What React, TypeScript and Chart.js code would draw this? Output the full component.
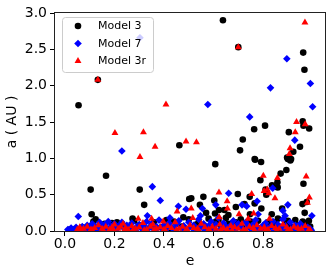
import React, { useEffect, useRef } from 'react';
import { Chart, registerables } from 'chart.js';

Chart.register(...registerables);

// ---- data: [e, a (AU)] ----
const model3Points: number[][] = [
  [0.638, 2.9], [0.7, 2.53], [0.962, 2.455], [0.967, 2.22], [0.133, 2.08], [0.055, 1.73],
  [0.462, 1.18], [0.808, 1.45], [0.764, 1.4], [0.718, 1.26], [0.707, 1.11], [0.96, 1.51],
  [0.963, 1.45], [0.986, 1.41], [0.904, 1.36], [0.949, 1.16], [0.922, 1.09], [0.766, 0.99],
  [0.897, 1.01], [0.913, 0.99], [0.166, 0.76], [0.104, 0.57], [0.302, 0.57], [0.32, 0.36],
  [0.502, 0.44], [0.108, 0.23], [0.124, 0.16], [0.273, 0.17], [0.478, 0.19], [0.607, 0.92],
  [0.768, 0.98], [0.792, 0.95], [0.9, 0.99], [0.91, 0.97], [0.894, 0.84], [0.871, 0.79],
  [0.789, 0.7], [0.858, 0.67], [0.963, 0.65], [0.836, 0.63], [0.859, 0.6], [0.813, 0.5],
  [0.81, 0.57], [0.976, 0.4], [0.698, 0.51], [0.746, 0.47], [0.559, 0.47], [0.51, 0.45],
  [0.603, 0.42], [0.725, 0.37], [0.793, 0.31], [0.877, 0.31], [0.959, 0.37], [0.622, 0.29],
  [0.644, 0.29], [0.606, 0.24], [0.968, 0.25], [0.835, 0.23], [0.747, 0.23], [0.66, 0.22],
  [0.766, 0.38], [0.69, 0.33], [0.545, 0.36], [0.57, 0.25],
];
const model3LowPoints: number[][] = [
  [0.02, 0.02], [0.045, 0.03], [0.07, 0.05], [0.09, 0.02], [0.115, 0.13], [0.14, 0.04],
  [0.16, 0.1], [0.185, 0.02], [0.21, 0.12], [0.24, 0.06], [0.26, 0.03], [0.28, 0.14],
  [0.3, 0.08], [0.33, 0.03], [0.36, 0.12], [0.39, 0.05], [0.41, 0.15], [0.43, 0.02],
  [0.45, 0.1], [0.47, 0.06], [0.5, 0.16], [0.52, 0.04], [0.54, 0.12], [0.56, 0.07],
  [0.58, 0.17], [0.6, 0.03], [0.61, 0.13], [0.63, 0.08], [0.65, 0.18], [0.67, 0.05],
  [0.69, 0.12], [0.71, 0.16], [0.72, 0.04], [0.74, 0.1], [0.76, 0.06], [0.78, 0.14],
  [0.8, 0.03], [0.82, 0.12], [0.84, 0.07], [0.86, 0.17], [0.87, 0.04], [0.89, 0.1],
  [0.91, 0.06], [0.93, 0.15], [0.95, 0.03], [0.97, 0.11], [0.99, 0.06], [0.985, 0.14],
  [0.19, 0.11], [0.23, 0.09], [0.35, 0.07], [0.44, 0.13], [0.53, 0.09], [0.62, 0.15],
  [0.66, 0.1], [0.7, 0.07], [0.75, 0.13], [0.81, 0.09], [0.85, 0.12], [0.9, 0.14],
  [0.94, 0.08], [0.96, 0.13],
];

const model7Points: number[][] = [
  [0.303, 2.66], [0.896, 2.37], [0.991, 2.03], [0.83, 1.97], [0.577, 1.74], [1.0, 1.71],
  [0.746, 1.57], [0.928, 1.25], [0.23, 1.1], [0.353, 0.61], [0.385, 0.42], [0.054, 0.2],
  [0.458, 0.34], [0.489, 0.3], [0.424, 0.18], [0.333, 0.21], [0.839, 0.59], [0.661, 0.52],
  [0.776, 0.41], [0.609, 0.36], [0.715, 0.36], [0.734, 0.34], [0.9, 0.36], [0.555, 0.31],
  [0.997, 0.21], [0.88, 0.28], [0.889, 0.21], [0.547, 0.21], [0.78, 0.23],
];
const model7LowPoints: number[][] = [
  [0.012, 0.02], [0.025, 0.04], [0.035, 0.02], [0.045, 0.05], [0.06, 0.03], [0.07, 0.06],
  [0.08, 0.02], [0.09, 0.08], [0.1, 0.04], [0.11, 0.1], [0.115, 0.03], [0.125, 0.06],
  [0.135, 0.02], [0.14, 0.12], [0.15, 0.05], [0.16, 0.09], [0.17, 0.03], [0.175, 0.13],
  [0.185, 0.06], [0.195, 0.02], [0.2, 0.1], [0.21, 0.04], [0.22, 0.07], [0.23, 0.12],
  [0.24, 0.03], [0.25, 0.08], [0.26, 0.05], [0.27, 0.11], [0.28, 0.02], [0.29, 0.06],
  [0.3, 0.09], [0.31, 0.03], [0.32, 0.07], [0.33, 0.13], [0.34, 0.04], [0.35, 0.1],
  [0.36, 0.02], [0.37, 0.06], [0.38, 0.15], [0.39, 0.04], [0.4, 0.08], [0.41, 0.03],
  [0.42, 0.11], [0.43, 0.05], [0.44, 0.02], [0.45, 0.09], [0.46, 0.14], [0.47, 0.04],
  [0.48, 0.07], [0.49, 0.02], [0.5, 0.12], [0.51, 0.05], [0.52, 0.08], [0.53, 0.03],
  [0.54, 0.16], [0.55, 0.06], [0.56, 0.1], [0.57, 0.02], [0.58, 0.07], [0.59, 0.13],
  [0.6, 0.04], [0.61, 0.09], [0.62, 0.18], [0.63, 0.03], [0.64, 0.11], [0.65, 0.06],
  [0.66, 0.02], [0.67, 0.08], [0.68, 0.14], [0.69, 0.04], [0.7, 0.1], [0.71, 0.05],
  [0.72, 0.02], [0.73, 0.12], [0.74, 0.07], [0.75, 0.03], [0.76, 0.09], [0.77, 0.15],
  [0.78, 0.05], [0.79, 0.02], [0.8, 0.08], [0.81, 0.11], [0.82, 0.04], [0.83, 0.06],
  [0.84, 0.13], [0.85, 0.03], [0.86, 0.09], [0.87, 0.05], [0.88, 0.16], [0.89, 0.07],
  [0.9, 0.02], [0.91, 0.12], [0.92, 0.04], [0.93, 0.08], [0.94, 0.03], [0.95, 0.1],
  [0.96, 0.06], [0.97, 0.02], [0.98, 0.05], [0.99, 0.03],
  [0.018, 0.01], [0.055, 0.01], [0.085, 0.005], [0.13, 0.01], [0.165, 0.005], [0.205, 0.01],
  [0.245, 0.005], [0.285, 0.01], [0.325, 0.005], [0.365, 0.01], [0.405, 0.005], [0.445, 0.01],
  [0.485, 0.005], [0.525, 0.01], [0.565, 0.005], [0.605, 0.01], [0.645, 0.005], [0.685, 0.01],
  [0.725, 0.005], [0.765, 0.01], [0.805, 0.005], [0.845, 0.01], [0.885, 0.005], [0.925, 0.01],
  [0.965, 0.005], [0.995, 0.01],
];

const model3rPoints: number[][] = [
  [0.969, 2.87], [0.7, 2.53], [0.133, 2.08], [0.408, 1.74], [0.202, 1.35], [0.317, 1.36],
  [0.364, 1.16], [0.489, 1.23], [0.303, 1.02], [0.531, 1.22], [0.935, 1.5], [0.97, 1.47],
  [0.93, 1.36], [0.909, 1.14], [0.906, 1.06], [0.801, 0.76], [0.858, 0.73], [0.974, 0.75],
  [0.817, 0.57], [0.804, 0.55], [0.823, 0.52], [0.848, 0.45], [0.987, 0.46], [0.979, 0.39],
  [0.622, 0.53], [0.754, 0.51], [0.655, 0.41], [0.656, 0.31], [0.51, 0.31], [0.516, 0.18],
  [0.703, 0.23], [0.623, 0.19], [0.826, 0.17], [0.453, 0.27], [0.762, 0.24], [0.74, 0.17],
  [0.296, 0.17], [0.35, 0.17], [0.397, 0.13],
];
const model3rLowPoints: number[][] = [
  [0.05, 0.02], [0.06, 0.05], [0.075, 0.03], [0.09, 0.06], [0.105, 0.02], [0.12, 0.04],
  [0.135, 0.08], [0.15, 0.03], [0.165, 0.06], [0.18, 0.02], [0.19, 0.05], [0.2, 0.09],
  [0.215, 0.03], [0.225, 0.06], [0.235, 0.1], [0.245, 0.04], [0.255, 0.02], [0.27, 0.07],
  [0.285, 0.03], [0.3, 0.05], [0.315, 0.11], [0.33, 0.02], [0.345, 0.06], [0.355, 0.09],
  [0.37, 0.03], [0.385, 0.05], [0.4, 0.02], [0.415, 0.07], [0.43, 0.04], [0.445, 0.12],
  [0.46, 0.03], [0.475, 0.06], [0.49, 0.02], [0.505, 0.08], [0.52, 0.04], [0.535, 0.03],
  [0.55, 0.1], [0.565, 0.05], [0.58, 0.02], [0.595, 0.06], [0.61, 0.03], [0.625, 0.09],
  [0.64, 0.04], [0.655, 0.02], [0.67, 0.07], [0.685, 0.05], [0.7, 0.03], [0.715, 0.1],
  [0.73, 0.02], [0.745, 0.06], [0.76, 0.04], [0.775, 0.08], [0.79, 0.03], [0.805, 0.05],
  [0.82, 0.02], [0.835, 0.07], [0.85, 0.04], [0.865, 0.03], [0.88, 0.09], [0.895, 0.05],
  [0.91, 0.02], [0.925, 0.06], [0.94, 0.04], [0.955, 0.03], [0.97, 0.07], [0.985, 0.02],
  [0.065, 0.01], [0.11, 0.015], [0.155, 0.01], [0.195, 0.015], [0.24, 0.01], [0.275, 0.015],
  [0.32, 0.01], [0.36, 0.015], [0.405, 0.01], [0.45, 0.015], [0.495, 0.01], [0.54, 0.015],
  [0.585, 0.01], [0.63, 0.015], [0.675, 0.01], [0.72, 0.015], [0.765, 0.01], [0.81, 0.015],
  [0.855, 0.01], [0.9, 0.015], [0.945, 0.01], [0.99, 0.015],
];

const seriesNames = ['Model 3', 'Model 7', 'Model 3r'];
const seriesColors = ['#000000', '#0000ff', '#ff0000'];
const xTicks = [0, 0.2, 0.4, 0.6, 0.8];
const yTicks = [0, 0.5, 1.0, 1.5, 2.0, 2.5, 3.0];
const xLabel = 'e';
const yLabel = 'a ( AU )';

const FONT = 'DejaVu Sans';

function drawMarker(ctx: CanvasRenderingContext2D, kind: string, x: number, y: number, r: number) {
  ctx.beginPath();
  if (kind === 'circle') {
    ctx.arc(x, y, r, 0, Math.PI * 2);
  } else if (kind === 'rectRot') {
    ctx.moveTo(x, y - r);
    ctx.lineTo(x + r, y);
    ctx.lineTo(x, y + r);
    ctx.lineTo(x - r, y);
    ctx.closePath();
  } else {
    ctx.moveTo(x, y - r);
    ctx.lineTo(x + r * 0.866, y + r * 0.5);
    ctx.lineTo(x - r * 0.866, y + r * 0.5);
    ctx.closePath();
  }
  ctx.fill();
}

const markerKinds = ['circle', 'rectRot', 'triangle'];
const markerRadii = [3.3, 3.8, 4];

const framePlugin = {
  id: 'frame',
  afterDatasetsDraw(chart: any) {
    const { ctx, chartArea } = chart;
    const { left, right, top, bottom } = chartArea;
    ctx.save();
    ctx.strokeStyle = '#222';
    ctx.lineWidth = 1;
    ctx.strokeRect(Math.round(left) - 0.5, Math.round(top) - 0.5, Math.round(right - left) + 1, Math.round(bottom - top) + 1);
    ctx.restore();
  },
};

const legendPlugin = {
  id: 'boxLegend',
  afterDraw(chart: any) {
    const { ctx, chartArea } = chart;
    const x0 = chartArea.left + 7.5;
    const y0 = chartArea.top + 4.5;
    const w = 91;
    const h = 55;
    const r = 3;
    ctx.save();
    ctx.beginPath();
    ctx.moveTo(x0 + r, y0);
    ctx.lineTo(x0 + w - r, y0);
    ctx.arcTo(x0 + w, y0, x0 + w, y0 + r, r);
    ctx.lineTo(x0 + w, y0 + h - r);
    ctx.arcTo(x0 + w, y0 + h, x0 + w - r, y0 + h, r);
    ctx.lineTo(x0 + r, y0 + h);
    ctx.arcTo(x0, y0 + h, x0, y0 + h - r, r);
    ctx.lineTo(x0, y0 + r);
    ctx.arcTo(x0, y0, x0 + r, y0, r);
    ctx.closePath();
    ctx.fillStyle = 'rgba(255,255,255,0.8)';
    ctx.fill();
    ctx.strokeStyle = '#cccccc';
    ctx.lineWidth = 1;
    ctx.stroke();
    const rows = [8.5, 26, 43.5];
    ctx.font = `11px "${FONT}"`;
    ctx.textBaseline = 'middle';
    ctx.textAlign = 'left';
    for (let i = 0; i < seriesNames.length; i++) {
      const cy = y0 + rows[i];
      ctx.fillStyle = seriesColors[i];
      drawMarker(ctx, markerKinds[i], x0 + 15.5, cy, markerRadii[i]);
      ctx.fillStyle = '#000';
      ctx.fillText(seriesNames[i], x0 + 35.5, cy + 0.5);
    }
    ctx.restore();
  },
};

export default function App() {
  const canvasRef = useRef<HTMLCanvasElement | null>(null);

  useEffect(() => {
    if (!canvasRef.current) return;
    const toXY = (arr: number[][]) => arr.map(([e, a]) => ({ x: e, y: a }));
    const allSeries = [
      [...model3Points, ...model3LowPoints],
      [...model7Points, ...model7LowPoints],
      [...model3rPoints, ...model3rLowPoints],
    ];
    const chart = new Chart(canvasRef.current, {
      type: 'scatter',
      data: {
        datasets: allSeries.map((pts, i) => ({
          label: seriesNames[i],
          data: toXY(pts),
          pointStyle: markerKinds[i] as any,
          pointRadius: markerRadii[i],
          pointBackgroundColor: seriesColors[i],
          pointBorderWidth: 0,
          pointBorderColor: seriesColors[i],
          backgroundColor: seriesColors[i],
          borderColor: seriesColors[i],
          order: 3 - i,
          clip: 0,
        })),
      },
      options: {
        responsive: false,
        animation: false,
        devicePixelRatio: 1,
        layout: { padding: { top: 13, right: 9, bottom: 0, left: 0 } },
        plugins: {
          legend: { display: false },
          tooltip: { enabled: false },
        },
        scales: {
          x: {
            type: 'linear',
            min: -0.04,
            max: 1.05,
            afterBuildTicks: (scale: any) => {
              scale.ticks = xTicks.map((v) => ({ value: v }));
            },
            afterFit: (scale: any) => {
              scale.height = 46;
            },
            ticks: {
              color: '#000',
              font: { family: FONT, size: 14 },
              padding: 0,
              maxRotation: 0,
              autoSkip: false,
              callback: (v: any) => Number(v).toFixed(1),
            },
            grid: {
              display: true,
              drawOnChartArea: false,
              drawTicks: true,
              tickLength: 5,
              color: '#000',
            },
            border: { display: false },
            title: {
              display: true,
              text: xLabel,
              color: '#000',
              font: { family: FONT, size: 14 },
              padding: { top: 0, bottom: 7 },
            },
          },
          y: {
            type: 'linear',
            min: 0,
            max: 3,
            afterBuildTicks: (scale: any) => {
              scale.ticks = yTicks.map((v) => ({ value: v }));
            },
            afterFit: (scale: any) => {
              scale.width = 55;
            },
            ticks: {
              color: '#000',
              font: { family: FONT, size: 14 },
              padding: 3,
              autoSkip: false,
              callback: (v: any) => Number(v).toFixed(1),
            },
            grid: {
              display: true,
              drawOnChartArea: false,
              drawTicks: true,
              tickLength: 5,
              color: '#000',
            },
            border: { display: false },
            title: {
              display: true,
              text: yLabel,
              color: '#000',
              font: { family: FONT, size: 14 },
              padding: { top: 4, bottom: 0 },
            },
          },
        },
      },
      plugins: [framePlugin, legendPlugin],
    } as any);
    return () => chart.destroy();
  }, []);

  return (
    <div style={{ position: 'absolute', left: 0, top: 0, width: 334, height: 277, background: '#fff' }}>
      <canvas ref={canvasRef} width={334} height={277} style={{ display: 'block' }} />
    </div>
  );
}
